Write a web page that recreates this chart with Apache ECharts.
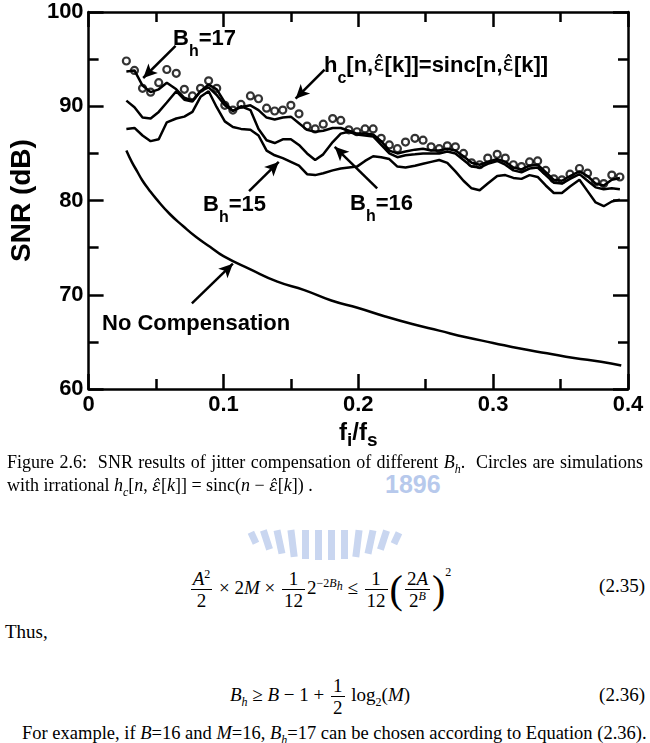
<!DOCTYPE html>
<html>
<head>
<meta charset="utf-8">
<script src="https://cdn.jsdelivr.net/npm/echarts@6/dist/echarts.min.js"></script>
<style>
  body { margin: 0; width: 650px; height: 743px; background: #fff; position: relative; overflow: hidden;
         font-family: 'Liberation Serif', serif; font-size: 18px; color: #000; }
  #chart { position: absolute; left: 0; top: 0; width: 650px; height: 455px; }
  .txt { position: absolute; white-space: nowrap; line-height: 23px; }
  .just { text-align: justify; text-align-last: justify; white-space: normal; }
  sub, sup { font-size: 12px; line-height: 0; }
  .eh { font-family: 'DejaVu Serif', serif; font-size: 16px; font-style: italic; }
  .eq { position: absolute; left: 0; width: 640px; text-align: center; height: 48px; line-height: 48px; font-size: 19px; }
  .num { position: absolute; right: 5px; font-size: 19px; line-height: 48px; }
  .frac { display: inline-block; vertical-align: middle; text-align: center; margin: 0 2px; }
  .frac .n { display: block; border-bottom: 1px solid #000; padding: 0 2px; line-height: 21px; }
  .frac .d { display: block; padding: 0 2px; line-height: 21px; }
  .big { display: inline-block; font-size: 40px; vertical-align: middle; line-height: 40px; font-weight: 100; }
  .mark { position: absolute; color: #b7c9ec; font: bold 25px 'Liberation Sans', sans-serif; }
  #logo { position: absolute; left: 0; top: 0; }
</style>
</head>
<body>
<svg id="logo" width="650" height="743">
  <g fill="#c9d6f0">
    <rect x="250" y="532" width="7" height="12" transform="rotate(-25 253 538)"/>
    <rect x="263" y="530" width="7" height="20" transform="rotate(-18 266 540)"/>
    <rect x="276" y="530" width="7" height="24" transform="rotate(-12 279 542)"/>
    <rect x="289" y="530" width="7" height="27" transform="rotate(-7 292 543)"/>
    <rect x="302" y="530" width="7" height="29"/>
    <rect x="315" y="530" width="7" height="30"/>
    <rect x="328" y="530" width="7" height="30"/>
    <rect x="341" y="530" width="7" height="29"/>
    <rect x="354" y="530" width="7" height="27" transform="rotate(7 357 543)"/>
    <rect x="367" y="530" width="7" height="24" transform="rotate(12 370 542)"/>
    <rect x="380" y="530" width="7" height="20" transform="rotate(18 383 540)"/>
    <rect x="393" y="532" width="7" height="12" transform="rotate(25 396 538)"/>
  </g>
</svg>
<div class="mark" style="left:385px;top:470px;">1896</div>
<div id="chart"></div>

<div class="txt just" style="left:7px;top:451px;width:636px;">Figure 2.6: &nbsp;SNR results of jitter compensation of different <i>B<sub>h</sub></i>. &nbsp;Circles are simulations</div>
<div class="txt" style="left:7px;top:474px;">with irrational <i>h<sub>c</sub></i>[<i>n</i>, <span class="eh">ε̂</span>[<i>k</i>]] = sinc(<i>n</i> − <span class="eh">ε̂</span>[<i>k</i>]) .</div>

<div class="eq" style="top:564px;">
  <span class="frac"><span class="n"><i>A</i><sup>2</sup></span><span class="d">2</span></span> × 2<i>M</i> ×
  <span class="frac"><span class="n">1</span><span class="d">12</span></span>2<sup>−2<i>B<sub>h</sub></i></sup> ≤
  <span class="frac"><span class="n">1</span><span class="d">12</span></span><span class="big">(</span><span class="frac"><span class="n">2<i>A</i></span><span class="d">2<sup><i>B</i></sup></span></span><span class="big">)</span><sup style="vertical-align:18px">2</sup>
</div>
<div class="num" style="top:562px;">(2.35)</div>

<div class="txt" style="left:5px;top:620px;font-size:19px;">Thus,</div>

<div class="eq" style="top:671px;">
  <i>B<sub>h</sub></i> ≥ <i>B</i> − 1 + <span class="frac"><span class="n">1</span><span class="d">2</span></span> log<sub>2</sub>(<i>M</i>)
</div>
<div class="num" style="top:671px;">(2.36)</div>

<div class="txt" style="left:22px;top:722px;font-size:18.5px;">For example, if <i>B</i>=16 and <i>M</i>=16, <i>B<sub>h</sub></i>=17 can be chosen according to Equation (2.36).</div>

<script>
// normalised jitter frequency f_i/f_s shared by the compensated curves
var fRatio = [0.028, 0.034, 0.040, 0.046, 0.052, 0.058, 0.065, 0.071, 0.077, 0.083,
              0.089, 0.095, 0.101, 0.107, 0.113, 0.120, 0.126, 0.132, 0.138, 0.144,
              0.150, 0.156, 0.162, 0.168, 0.174, 0.181, 0.187, 0.193, 0.199, 0.205,
              0.211, 0.217, 0.223, 0.229, 0.235, 0.242, 0.248, 0.254, 0.260, 0.266,
              0.272, 0.278, 0.284, 0.290, 0.296, 0.303, 0.309, 0.315, 0.321, 0.327,
              0.333, 0.339, 0.345, 0.351, 0.357, 0.364, 0.370, 0.376, 0.382, 0.388, 0.394]

// circles: irrational hc = sinc
var snrSinc = [94.8, 93.8, 91.9, 91.5, 92.5, 93.9, 93.5, 91.8, 91.1, 91.9,
               92.7, 91.9, 90.1, 89.6, 90.2, 91.1, 90.8, 89.8, 89.5, 89.6,
               90.1, 89.2, 87.9, 87.6, 88.1, 88.7, 88.5, 87.5, 87.3, 87.6,
               87.6, 86.6, 85.9, 85.5, 86.2, 86.6, 86.4, 85.7, 85.5, 85.8,
               85.7, 85.0, 84.0, 83.8, 84.5, 84.9, 84.5, 83.8, 83.6, 84.1,
               84.2, 83.2, 82.3, 82.2, 82.8, 83.4, 82.9, 82.0, 81.8, 82.7, 82.5]

var snrBh17 = [93.7, 93.8, 92.2, 91.5, 91.8, 92.5, 91.8, 90.9, 90.6, 91.6,
               92.3, 91.8, 90.4, 89.5, 89.9, 90.1, 89.6, 88.8, 88.6, 88.8,
               88.9, 88.2, 87.5, 87.3, 87.4, 87.7, 87.7, 87.4, 87.1, 87.1,
               87.0, 86.3, 85.3, 85.0, 85.2, 85.4, 85.5, 85.3, 85.3, 85.5,
               85.3, 84.7, 84.0, 83.8, 84.1, 84.4, 84.1, 83.5, 83.3, 83.7,
               83.8, 83.0, 82.2, 82.1, 82.6, 83.1, 82.6, 81.8, 81.6, 82.2, 82.4]

var snrBh16 = [90.6, 89.9, 88.8, 88.7, 89.4, 90.4, 91.6, 90.7, 90.5, 91.6,
               92.0, 91.2, 90.1, 89.5, 90.0, 89.6, 87.6, 86.4, 86.1, 86.5,
               86.5, 85.9, 85.0, 84.3, 84.9, 86.2, 87.1, 87.3, 87.0, 86.9,
               86.8, 85.9, 85.0, 84.6, 84.8, 84.9, 85.0, 85.0, 85.0, 85.2,
               85.0, 84.3, 83.6, 83.5, 83.9, 84.2, 83.8, 83.2, 83.0, 83.4,
               83.5, 82.7, 81.9, 81.8, 82.3, 82.8, 82.1, 81.4, 81.2, 81.3, 81.2]

var snrBh15 = [87.6, 87.7, 86.9, 86.3, 86.5, 88.3, 88.7, 88.9, 89.4, 91.0,
               91.6, 89.9, 88.4, 87.8, 87.6, 87.5, 86.9, 85.3, 84.8, 84.5,
               84.1, 83.7, 82.8, 82.7, 82.9, 83.2, 83.4, 83.5, 83.6, 84.2,
               84.7, 84.6, 84.4, 83.6, 83.5, 83.7, 83.9, 84.1, 84.3, 84.0,
               83.1, 82.1, 81.3, 81.1, 81.8, 82.6, 82.7, 82.4, 82.3, 82.7,
               82.5, 81.6, 80.8, 80.8, 81.5, 82.2, 81.0, 79.8, 79.4, 79.9, 80.1]

// no compensation curve
var fNoComp = [0.028, 0.032, 0.036, 0.040, 0.045, 0.050, 0.060, 0.070, 0.080, 0.090,
               0.100, 0.120, 0.140, 0.160, 0.180, 0.200, 0.220, 0.240, 0.260, 0.280,
               0.300, 0.320, 0.340, 0.360, 0.380, 0.395]
var snrNoComp = [85.3, 84.1, 83.1, 82.1, 81.1, 80.2, 78.6, 77.3, 76.1, 75.1,
                 74.1, 72.7, 71.4, 70.5, 69.4, 68.6, 67.7, 66.9, 66.2, 65.5,
                 64.9, 64.3, 63.8, 63.3, 62.9, 62.5]

var xTicks = [0, 0.1, 0.2, 0.3, 0.4]
var yTicks = [60, 70, 80, 90, 100]

// annotation arrows [from, to] in data units
var arrows = [
  [[0.0645, 96.4], [0.0405, 93.0]],
  [[0.175, 93.9], [0.1535, 90.8]],
  [[0.119, 81.0], [0.141, 84.1]],
  [[0.214, 81.3], [0.1825, 85.7]],
  [[0.0766, 69.1], [0.107, 73.3]]
]

var FONT = 'Liberation Sans'

function pairs(xs, ys) {
  return xs.map(function (x, i) { return [x, ys[i]] })
}

function axis(kind, pos, labels) {
  return {
    type: 'value',
    position: pos,
    min: kind === 'x' ? xTicks[0] : yTicks[0],
    max: kind === 'x' ? xTicks[xTicks.length - 1] : yTicks[yTicks.length - 1],
    interval: kind === 'x' ? xTicks[1] - xTicks[0] : yTicks[1] - yTicks[0],
    axisLine: { show: true, onZero: false, lineStyle: { color: '#000', width: 2.5 } },
    axisTick: { show: true, inside: true, length: 15, lineStyle: { color: '#000', width: 2.5 } },
    minorTick: { show: true, splitNumber: 2, length: 10, lineStyle: { color: '#000', width: 2.5 } },
    splitLine: { show: false },
    minorSplitLine: { show: false },
    axisLabel: { show: labels, color: '#000', fontFamily: FONT, fontWeight: 'bold', fontSize: 22, margin: 5 }
  }
}

var subRich = {
  m: { fontSize: 22, fontWeight: 'bold', fontFamily: FONT, fill: '#000', lineHeight: 24, verticalAlign: 'top' },
  e: { fontSize: 21, fontFamily: 'DejaVu Sans', fill: '#000', lineHeight: 24, verticalAlign: 'top' },
  s: { fontSize: 16, fontWeight: 'bold', fontFamily: FONT, fill: '#000', lineHeight: 16, verticalAlign: 'top', padding: [16, 0, 0, 0] }
}

var xa = axis('x', 'bottom', true)
xa.name = '{m|f}{s|i}{m|/f}{s|s}'
xa.nameLocation = 'middle'
xa.nameGap = 28
xa.nameTextStyle = { rich: {
  m: { fontSize: 24, fontWeight: 'bold', fontFamily: FONT, color: '#000', lineHeight: 26, verticalAlign: 'top' },
  s: { fontSize: 19, fontWeight: 'bold', fontFamily: FONT, color: '#000', lineHeight: 19, verticalAlign: 'top', padding: [10, 0, 0, 0] }
} }
var xt = axis('x', 'top', false)

var ya = axis('y', 'left', true)
ya.name = 'SNR (dB)'
ya.nameLocation = 'middle'
ya.nameRotate = 90
ya.nameGap = 43
ya.nameTextStyle = { color: '#000', fontFamily: FONT, fontWeight: 'bold', fontSize: 28 }
var yr = axis('y', 'right', false)

var lineStyle = { color: '#000', width: 2.5 }

var chart = echarts.init(document.getElementById('chart'), null, { renderer: 'canvas' })
chart.setOption({
  animation: false,
  backgroundColor: 'transparent',
  grid: { left: 80, right: 22, top: 12, bottom: 62 },
  xAxis: [xa, xt],
  yAxis: [ya, yr],
  series: [
    { name: 'Bh=17', type: 'line', data: pairs(fRatio, snrBh17), showSymbol: false, lineStyle: lineStyle, z: 3 },
    { name: 'Bh=16', type: 'line', data: pairs(fRatio, snrBh16), showSymbol: false, lineStyle: lineStyle, z: 3 },
    { name: 'Bh=15', type: 'line', data: pairs(fRatio, snrBh15), showSymbol: false, lineStyle: lineStyle, z: 3 },
    { name: 'sinc', type: 'scatter', data: pairs(fRatio, snrSinc), symbol: 'circle', symbolSize: 7,
      itemStyle: { color: 'rgba(255,255,255,0)', borderColor: '#000', borderWidth: 2.2 }, z: 4 },
    { name: 'No Compensation', type: 'line', data: pairs(fNoComp, snrNoComp), showSymbol: false, smooth: true,
      lineStyle: lineStyle,
      markLine: {
        silent: true, animation: false,
        symbol: ['none', 'arrow'], symbolSize: [10, 14],
        lineStyle: { color: '#000', width: 2.5, type: 'solid' },
        label: { show: false },
        data: arrows.map(function (a) { return [{ coord: a[0] }, { coord: a[1] }] })
      } }
  ],
  graphic: [
    { type: 'text', left: 173, top: 28, style: { text: '{m|B}{s|h}{m|=17}', rich: subRich } },
    { type: 'text', left: 324, top: 55, style: { text: '{m|h}{s|c}{m|[n,}{e|ε̂}{m|[k]]=sinc[n,}{e|ε̂}{m|[k]]}', rich: subRich } },
    { type: 'text', left: 203, top: 194, style: { text: '{m|B}{s|h}{m|=15}', rich: subRich } },
    { type: 'text', left: 350, top: 193, style: { text: '{m|B}{s|h}{m|=16}', rich: subRich } },
    { type: 'text', left: 102, top: 313, style: { text: 'No Compensation', fill: '#000',
      font: 'bold 22px "Liberation Sans"' } }
  ]
})
</script>
</body>
</html>
